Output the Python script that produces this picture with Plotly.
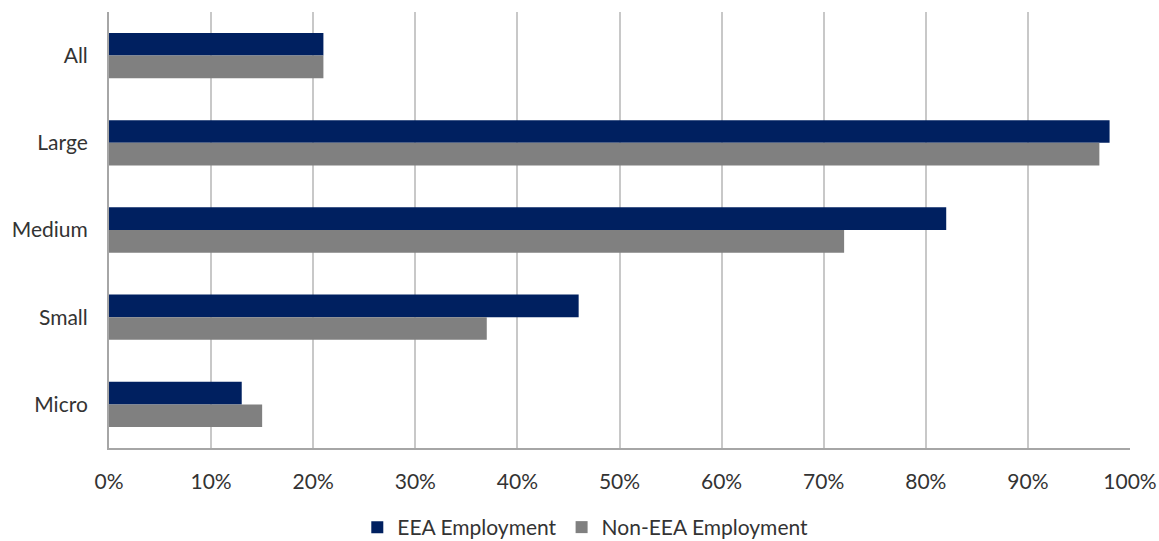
import plotly.graph_objects as go

categories = ["All", "Large", "Medium", "Small", "Micro"]
eea = [21, 98, 82, 46, 13]
non_eea = [21, 97, 72, 37, 15]
tick_vals = [0, 10, 20, 30, 40, 50, 60, 70, 80, 90, 100]
tick_text = ["0%", "10%", "20%", "30%", "40%", "50%", "60%", "70%", "80%", "90%", "100%"]

font_family = "Lato, Open Sans, sans-serif"

fig = go.Figure()
fig.add_trace(go.Bar(y=categories, x=eea, orientation="h", name="EEA Employment",
                     marker=dict(color="#002060", line=dict(width=0))))
fig.add_trace(go.Bar(y=categories, x=non_eea, orientation="h", name="Non-EEA Employment",
                     marker=dict(color="#808080", line=dict(width=0))))

fig.update_layout(
    width=1159, height=541,
    margin=dict(l=109, r=29, t=12, b=93, autoexpand=False),
    paper_bgcolor="white", plot_bgcolor="white",
    barmode="group", bargap=0.48, bargroupgap=0,
    font=dict(family=font_family, size=21, color="#333333"),
    showlegend=True,
    legend=dict(orientation="h", x=0.505, xanchor="center", xref="container",
                y=0.025, yanchor="middle", yref="container",
                font=dict(size=21, color="#333333"), traceorder="normal",
                itemwidth=30),
    xaxis=dict(range=[0, 100], tickvals=tick_vals, ticktext=tick_text,
               showgrid=True, gridcolor="#c8c8c8", gridwidth=2,
               showline=True, linecolor="#a6a6a6", linewidth=2,
               zeroline=False, ticks="", ticklabelstandoff=14,
               automargin=False, fixedrange=True),
    yaxis=dict(autorange="reversed", showgrid=False,
               showline=True, linecolor="#a6a6a6", linewidth=2,
               ticks="", ticklabelstandoff=15, automargin=False, fixedrange=True),
)

fig.write_html("out.html")
